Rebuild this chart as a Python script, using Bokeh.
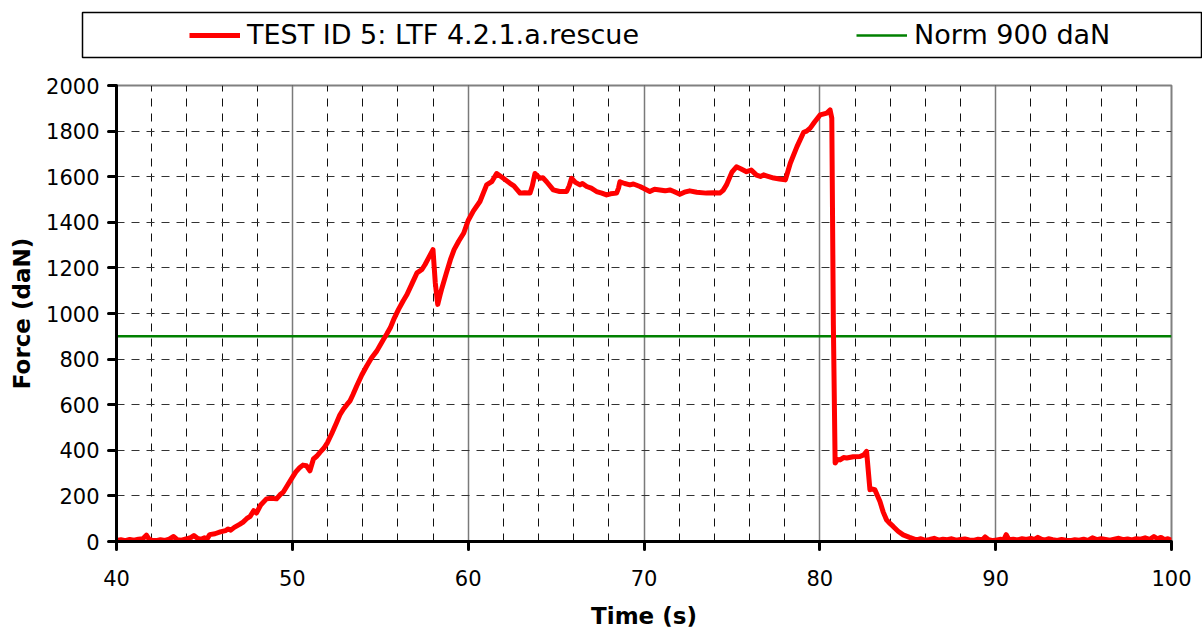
from bokeh.plotting import figure
from bokeh.models import (Range1d, SingleIntervalTicker, Legend, LegendItem)
from bokeh.embed import file_html
from bokeh.resources import INLINE

# ---- data ----
time_s = [
    40.0, 40.25, 40.5, 40.75, 41.0, 41.25, 41.5, 41.7, 41.85, 42.0, 42.25, 42.5, 42.75,
    43.0, 43.25, 43.45, 43.7, 44.0, 44.25, 44.4, 44.6, 44.8, 45.0, 45.1, 45.3, 45.6,
    45.9, 46.2, 46.35, 46.5, 46.7, 47.0, 47.2, 47.4, 47.6, 47.8, 47.96, 48.2, 48.53,
    48.8, 49.1, 49.3, 49.48, 49.75, 50.0, 50.2, 50.43, 50.6, 50.8, 51.0, 51.2, 51.4,
    51.57, 51.8, 52.0, 52.25, 52.52, 52.7, 52.9, 53.1, 53.28, 53.45, 53.66, 53.95,
    54.23, 54.5, 54.8, 55.0, 55.18, 55.37, 55.57, 55.8, 56.04, 56.3, 56.52, 56.8,
    57.09, 57.37, 57.55, 57.75, 58.0, 58.13, 58.27, 58.4, 58.51, 58.75, 58.99, 59.2,
    59.46, 59.75, 60.0, 60.3, 60.67, 61.05, 61.34, 61.62, 62.0, 62.38, 62.6, 62.95,
    63.2, 63.52, 63.65, 63.8, 64.08, 64.25, 64.46, 64.84, 65.2, 65.6, 65.75, 65.88,
    66.1, 66.36, 66.5, 66.74, 67.0, 67.3, 67.6, 67.87, 68.1, 68.44, 68.55, 68.63,
    68.9, 69.2, 69.4, 69.77, 70.0, 70.33, 70.6, 70.9, 71.2, 71.47, 71.7, 72.04, 72.3,
    72.6, 73.0, 73.55, 74.0, 74.31, 74.5, 74.69, 75.0, 75.26, 75.5, 75.83, 76.1,
    76.4, 76.62, 76.8, 76.96, 77.38, 77.7, 78.04, 78.32, 78.7, 79.08, 79.25, 79.45,
    79.7, 80.02, 80.4, 80.58, 80.68, 80.77, 80.87, 81.0, 81.15, 81.35, 81.53, 81.9,
    82.28, 82.5, 82.66, 82.85, 82.95, 83.13, 83.42, 83.6, 83.79, 84.0, 84.17, 84.45,
    84.74, 85.1, 85.49, 85.75, 86.0, 86.25, 86.5, 86.75, 87.0, 87.25, 87.5, 87.75,
    88.0, 88.25, 88.5, 88.75, 89.0, 89.25, 89.4, 89.6, 89.85, 90.0, 90.3, 90.45,
    90.6, 90.75, 91.0, 91.25, 91.5, 91.75, 92.0, 92.2, 92.4, 92.6, 92.8, 93.0, 93.25,
    93.5, 93.75, 94.0, 94.25, 94.5, 94.75, 95.0, 95.25, 95.5, 95.75, 96.0, 96.25,
    96.5, 96.75, 97.0, 97.25, 97.5, 97.75, 98.0, 98.25, 98.5, 98.75, 99.0, 99.2,
    99.4, 99.6, 99.8, 100.0,
]
force_dan = [
    5, 8, 4, 9, 6, 10, 12, 28, 10, 6, 4, 8, 5,
    10, 22, 8, 6, 12, 18, 26, 14, 10, 16, 5, 30, 34,
    42, 48, 55, 50, 62, 75, 85, 100, 110, 135, 125, 160, 187,
    190, 187, 205, 216, 250, 281, 305, 325, 335, 332, 310, 362, 375,
    391, 410, 434, 475, 522, 555, 580, 600, 617, 645, 682, 730,
    770, 805, 835, 862, 886, 910, 937, 980, 1018, 1055, 1083, 1130,
    1178, 1193, 1215, 1244, 1280, 1134, 1040, 1080, 1112, 1175, 1236, 1280,
    1317, 1353, 1408, 1450, 1491, 1564, 1578, 1614, 1593, 1571, 1560, 1528,
    1530, 1528, 1560, 1614, 1593, 1595, 1578, 1542, 1535, 1535, 1560, 1593,
    1575, 1564, 1570, 1557, 1550, 1535, 1528, 1520, 1525, 1528, 1550, 1578,
    1570, 1564, 1568, 1557, 1548, 1535, 1545, 1542, 1538, 1542, 1535, 1523, 1532,
    1538, 1532, 1528, 1530, 1528, 1540, 1564, 1620, 1643, 1635, 1622, 1629,
    1607, 1601, 1608, 1604, 1594, 1590, 1586, 1659, 1732, 1795, 1800, 1813,
    1840, 1871, 1879, 1893, 1857, 950, 344, 360, 358, 368, 366, 372,
    373, 380, 395, 227, 230, 227, 175, 130, 95, 78, 66, 45,
    29, 18, 7, 12, 5, 9, 14, 6, 10, 8, 12, 6,
    9, 11, 7, 5, 10, 8, 20, 8, 4, 6, 10, 5,
    30, 8, 10, 7, 12, 9, 14, 8, 18, 10, 6, 12, 8,
    5, 9, 6, 4, 8, 6, 10, 5, 16, 8, 12, 9,
    6, 10, 14, 8, 11, 7, 12, 10, 16, 9, 22, 12,
    18, 8, 12, 6,
]
norm_time = [40, 100]
norm_force = [900, 900]

series_label = "TEST ID 5: LTF 4.2.1.a.rescue"
norm_label = "Norm 900 daN"

FONT = "DejaVu Sans"
RED = "#FF0000"
GREEN = "#008000"

# ---- legend strip: its own small plot, whose frame is the legend box ----
lp = figure(width=1202, height=60, output_backend="svg", toolbar_location=None,
            x_axis_type=None, y_axis_type=None,
            min_border_left=82, min_border_right=0, min_border_top=12, min_border_bottom=3,
            x_range=Range1d(0, 1), y_range=Range1d(0, 1))
lp.grid.visible = False
lp.outline_line_color = "black"
lp.outline_line_width = 1.5
lp.background_fill_color = "white"
lp.border_fill_color = "white"
# same series drawn out of this strip's view: they only lend their style to the legend
l_test = lp.line(time_s, force_dan, line_color=RED, line_width=5)
l_norm = lp.line(norm_time, norm_force, line_color=GREEN, line_width=2.5)
leg = Legend(items=[LegendItem(label=series_label, renderers=[l_test]),
                    LegendItem(label=norm_label, renderers=[l_norm])],
             orientation="horizontal", location=(107, 7), padding=0, margin=0,
             spacing=217, glyph_width=51, label_standoff=7,
             border_line_alpha=0, background_fill_alpha=0,
             label_text_font=FONT, label_text_font_size="27px",
             label_text_color="black")
lp.add_layout(leg)

# ---- main plot ----
p = figure(frame_width=1055, frame_height=456, output_backend="svg",
           toolbar_location=None, min_border_left=116, min_border_right=29,
           min_border_top=25, min_border_bottom=88,
           x_range=Range1d(40, 100), y_range=Range1d(0, 2000))
p.background_fill_color = "white"
p.border_fill_color = "white"
p.outline_line_color = "#808080"
p.outline_line_width = 2

p.xaxis.ticker = SingleIntervalTicker(interval=10, num_minor_ticks=5)
p.yaxis.ticker = SingleIntervalTicker(interval=200, num_minor_ticks=0)

for ax in (p.xaxis[0], p.yaxis[0]):
    ax.axis_line_color = "black"
    ax.axis_line_width = 3
    ax.major_tick_line_color = "black"
    ax.major_tick_line_width = 3
    ax.major_tick_line_cap = "round"
    ax.major_tick_out = 8
    ax.major_tick_in = 0
    ax.minor_tick_out = 0
    ax.minor_tick_in = 0
    ax.major_label_text_font = FONT
    ax.major_label_text_font_size = "21px"
    ax.major_label_text_color = "black"
    ax.axis_label_text_font = FONT
    ax.axis_label_text_font_size = "23px"
    ax.axis_label_text_font_style = "bold"
    ax.axis_label_text_color = "black"

p.xaxis.axis_label = "Time (s)"
p.yaxis.axis_label = "Force (daN)"
p.xaxis.major_label_standoff = 20
p.xaxis.axis_label_standoff = 14
p.yaxis.major_label_standoff = 9
p.yaxis.axis_label_standoff = 8

p.xgrid.grid_line_color = "#7a7a7a"
p.xgrid.grid_line_width = 1.5
p.xgrid.minor_grid_line_color = "#111111"
p.xgrid.minor_grid_line_width = 1
p.xgrid.minor_grid_line_dash = "8 7"
p.ygrid.grid_line_color = "#333333"
p.ygrid.grid_line_width = 1
p.ygrid.grid_line_dash = "8 7"

p.line(norm_time, norm_force, line_color=GREEN, line_width=2.5)
p.line(time_s, force_dan, line_color=RED, line_width=5,
       line_join="round", line_cap="round")

open("out.html", "w").write(file_html([lp, p], INLINE))
